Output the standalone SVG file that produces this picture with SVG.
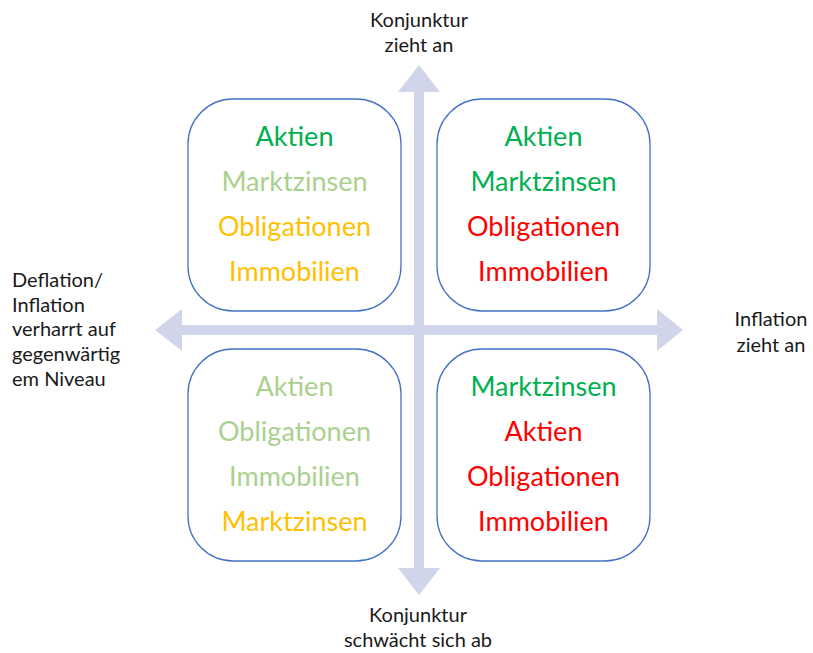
<svg xmlns="http://www.w3.org/2000/svg" width="813" height="653" viewBox="0 0 813 653">
<style>
.box{fill:#fff;stroke:#4472C4;stroke-width:1.3}
.arr{fill:#D0D5EA}
.t{font-family:Lato,"Open Sans","Liberation Sans",sans-serif;font-size:27px;text-anchor:middle}
.lbl{font-family:Lato,"Open Sans","Liberation Sans",sans-serif;font-size:20px;fill:#1a1a1a}
.g{fill:#00B050}.lg{fill:#A9D18E}.o{fill:#FFC000}.r{fill:#FF0000}
</style>
<g id="connectors">
<path class="arr" d="M414,92 L398,92 L419,65 L440,92 L424,92 L424,568 L440,568 L419,595 L398,568 L414,568 Z"/>
<path class="arr" d="M182,325 L182,309 L155,330 L182,351 L182,335 L657,335 L657,351 L683,330 L657,309 L657,325 Z"/>
</g>
<g id="box-tl">
<rect class="box" x="188" y="99" width="213" height="212" rx="45"/>
<text class="t g" x="294.5" y="146">Aktien</text>
<text class="t lg" x="294.5" y="191">Marktzinsen</text>
<text class="t o" x="294.5" y="236">Obligationen</text>
<text class="t o" x="294.5" y="281">Immobilien</text>
</g>
<g id="box-tr">
<rect class="box" x="437" y="99" width="213" height="212" rx="45"/>
<text class="t g" x="543.5" y="146">Aktien</text>
<text class="t g" x="543.5" y="191">Marktzinsen</text>
<text class="t r" x="543.5" y="236">Obligationen</text>
<text class="t r" x="543.5" y="281">Immobilien</text>
</g>
<g id="box-bl">
<rect class="box" x="188" y="349" width="213" height="212" rx="45"/>
<text class="t lg" x="294.5" y="396">Aktien</text>
<text class="t lg" x="294.5" y="441">Obligationen</text>
<text class="t lg" x="294.5" y="486">Immobilien</text>
<text class="t o" x="294.5" y="531">Marktzinsen</text>
</g>
<g id="box-br">
<rect class="box" x="437" y="349" width="213" height="212" rx="45"/>
<text class="t g" x="543.5" y="396">Marktzinsen</text>
<text class="t r" x="543.5" y="441">Aktien</text>
<text class="t r" x="543.5" y="486">Obligationen</text>
<text class="t r" x="543.5" y="531">Immobilien</text>
</g>
<g id="label-top">
<text class="lbl" x="419" y="27" text-anchor="middle">Konjunktur</text>
<text class="lbl" x="419" y="52" text-anchor="middle">zieht an</text>
</g>
<g id="label-bottom">
<text class="lbl" x="418" y="622" text-anchor="middle">Konjunktur</text>
<text class="lbl" x="418" y="647" text-anchor="middle">schwächt sich ab</text>
</g>
<g id="label-left">
<text class="lbl" x="12" y="287">Deflation/</text>
<text class="lbl" x="12" y="312">Inflation</text>
<text class="lbl" x="12" y="336">verharrt auf</text>
<text class="lbl" x="12" y="361">gegenwärtig</text>
<text class="lbl" x="12" y="386">em Niveau</text>
</g>
<g id="label-right">
<text class="lbl" x="771" y="326" text-anchor="middle">Inflation</text>
<text class="lbl" x="771" y="352" text-anchor="middle">zieht an</text>
</g>
</svg>
